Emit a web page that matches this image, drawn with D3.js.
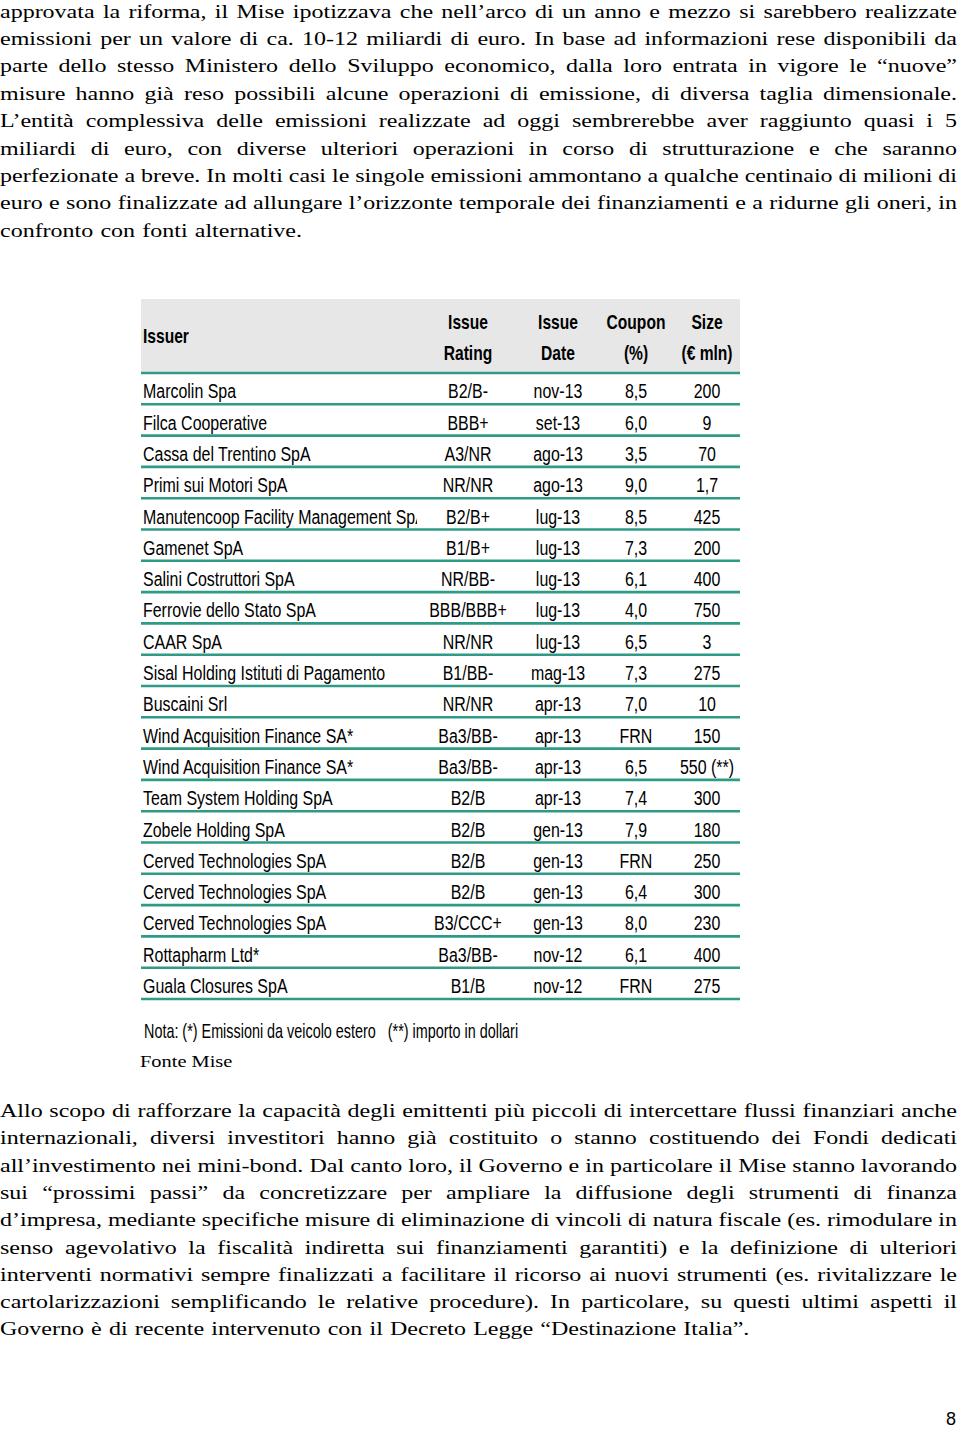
<!DOCTYPE html>
<html>
<head>
<meta charset="utf-8">
<script src="https://cdn.jsdelivr.net/npm/d3@7"></script>
<style>
  html, body { margin: 0; padding: 0; background: #fff; }
  svg { display: block; }
</style>
</head>
<body>
<div id="canvas"></div>
<script>
// DATA
const para1 = [
    "approvata la riforma, il Mise ipotizzava che nell’arco di un anno e mezzo si sarebbero realizzate",
    "emissioni per un valore di ca. 10-12 miliardi di euro. In base ad informazioni rese disponibili da",
    "parte dello stesso Ministero dello Sviluppo economico, dalla loro entrata in vigore le “nuove”",
    "misure hanno già reso possibili alcune operazioni di emissione, di diversa taglia dimensionale.",
    "L’entità complessiva delle emissioni realizzate ad oggi sembrerebbe aver raggiunto quasi i 5",
    "miliardi di euro, con diverse ulteriori operazioni in corso di strutturazione e che saranno",
    "perfezionate a breve. In molti casi le singole emissioni ammontano a qualche centinaio di milioni di",
    "euro e sono finalizzate ad allungare l’orizzonte temporale dei finanziamenti e a ridurne gli oneri, in",
    "confronto con fonti alternative."
];

const para2 = [
    "Allo scopo di rafforzare la capacità degli emittenti più piccoli di intercettare flussi finanziari anche",
    "internazionali, diversi investitori hanno già costituito o stanno costituendo dei Fondi dedicati",
    "all’investimento nei mini-bond. Dal canto loro, il Governo e in particolare il Mise stanno lavorando",
    "sui “prossimi passi” da concretizzare per ampliare la diffusione degli strumenti di finanza",
    "d’impresa, mediante specifiche misure di eliminazione di vincoli di natura fiscale (es. rimodulare in",
    "senso agevolativo la fiscalità indiretta sui finanziamenti garantiti) e la definizione di ulteriori",
    "interventi normativi sempre finalizzati a facilitare il ricorso ai nuovi strumenti (es. rivitalizzare le",
    "cartolarizzazioni semplificando le relative procedure). In particolare, su questi ultimi aspetti il",
    "Governo è di recente intervenuto con il Decreto Legge “Destinazione Italia”."
];

const columns = ["issuer", "rating", "date", "coupon", "size"];
const headers = [["Issuer"], ["Issue", "Rating"], ["Issue", "Date"], ["Coupon", "(%)"], ["Size", "(€ mln)"]];

const issuers = [
    "Marcolin Spa", "Filca Cooperative", "Cassa del Trentino SpA", "Primi sui Motori SpA",
    "Manutencoop Facility Management SpA", "Gamenet SpA", "Salini Costruttori SpA",
    "Ferrovie dello Stato SpA", "CAAR SpA", "Sisal Holding Istituti di Pagamento", "Buscaini Srl",
    "Wind Acquisition Finance SA*", "Wind Acquisition Finance SA*", "Team System Holding SpA",
    "Zobele Holding SpA", "Cerved Technologies SpA", "Cerved Technologies SpA",
    "Cerved Technologies SpA", "Rottapharm Ltd*", "Guala Closures SpA"
];
const ratings = [
    "B2/B-", "BBB+", "A3/NR", "NR/NR", "B2/B+", "B1/B+", "NR/BB-", "BBB/BBB+", "NR/NR", "B1/BB-",
    "NR/NR", "Ba3/BB-", "Ba3/BB-", "B2/B", "B2/B", "B2/B", "B2/B", "B3/CCC+", "Ba3/BB-", "B1/B"
];
const dates = [
    "nov-13", "set-13", "ago-13", "ago-13", "lug-13", "lug-13", "lug-13", "lug-13", "lug-13", "mag-13",
    "apr-13", "apr-13", "apr-13", "apr-13", "gen-13", "gen-13", "gen-13", "gen-13", "nov-12", "nov-12"
];
const coupons = [
    "8,5", "6,0", "3,5", "9,0", "8,5", "7,3", "6,1", "4,0", "6,5", "7,3",
    "7,0", "FRN", "6,5", "7,4", "7,9", "FRN", "6,4", "8,0", "6,1", "FRN"
];
const sizes = [
    "200", "9", "70", "1,7", "425", "200", "400", "750", "3", "275",
    "10", "150", "550 (**)", "300", "180", "250", "300", "230", "400", "275"
];

const nota = "Nota: (*) Emissioni da veicolo estero   (**) importo in dollari";
const fonte = "Fonte Mise";
const pageNumber = "8";

// DIMENSIONS
const width = 960;
const height = 1429;
const textWidth = 957;
const serif = "'Liberation Serif', 'Times New Roman', serif";
const sans = "'Liberation Sans', Arial, sans-serif";
const teal = "#2f9a86";

const canvas = d3.select("#canvas")
    .append("svg")
    .attr("width", width)
    .attr("height", height)
    .style("background", "#fff");

// narrow a text horizontally around its anchor (x, y) with a transform
function narrow(sel, x, y, k) {
    sel.attr("x", 0).attr("y", 0)
        .attr("transform", (d, i) => `translate(${x(d, i)}, ${y(d, i)}) scale(${k}, 1)`);
}

// PARAGRAPHS (justified, word by word)
function drawParagraph(lines, y0, lineStep) {
    const fs = 19.5, k = 1.23;
    const g = canvas.append("g").attr("class", "paragraph");
    const yScale = d3.scaleLinear().domain([0, 1]).range([y0, y0 + lineStep]);

    lines.forEach((line, i) => {
        const words = line.split(" ");
        const texts = g.append("g").selectAll("text")
            .data(words)
            .enter()
            .append("text")
            .attr("y", yScale(i))
            .style("font-family", serif)
            .style("font-size", fs + "px")
            .attr("fill", "#000")
            .text(d => d);
        const widths = [];
        texts.each(function () { widths.push(this.getComputedTextLength() * k); });
        const total = d3.sum(widths);
        const last = i === lines.length - 1;
        const gap = last ? fs * 0.3 * k : (textWidth - total) / (words.length - 1);
        let x = 0;
        texts.each(function (d, j) {
            d3.select(this)
                .attr("x", x)
                .attr("textLength", widths[j])
                .attr("lengthAdjust", "spacingAndGlyphs");
            x += widths[j] + gap;
        });
    });
}

drawParagraph(para1, 17.5, 27.4);
drawParagraph(para2, 1117, 27.3);

// TABLE
const rows = issuers.map((d, i) => ({
    issuer: d, rating: ratings[i], date: dates[i], coupon: coupons[i], size: sizes[i]
}));

const table = { left: 141, right: 740, headTop: 299, headBottom: 373, bottom: 999, issuerEnd: 417 };

const xCol = d3.scaleOrdinal()
    .domain(columns)
    .range([143, 468, 558, 636, 707]);

const yRow = d3.scaleBand()
    .domain(d3.range(rows.length))
    .range([table.headBottom, table.bottom]);

const tbl = canvas.append("g").attr("class", "table");

tbl.append("rect")
    .attr("x", table.left)
    .attr("y", table.headTop)
    .attr("width", table.right - table.left)
    .attr("height", table.headBottom - table.headTop)
    .attr("fill", "#e7e7e7");

// header labels, one text per header line
const headLines = [];
headers.forEach((lab, i) => {
    if (lab.length === 1) headLines.push({ col: columns[i], text: lab[0], y: 343 });
    else lab.forEach((t, j) => headLines.push({ col: columns[i], text: t, y: j === 0 ? 329 : 360 }));
});

tbl.selectAll(".head")
    .data(headLines)
    .enter()
    .append("text")
    .attr("class", "head")
    .attr("text-anchor", d => d.col === "issuer" ? "start" : "middle")
    .style("font-family", sans)
    .style("font-size", "20px")
    .style("font-weight", "bold")
    .attr("fill", "#000")
    .text(d => d.text)
    .call(narrow, d => xCol(d.col), d => d.y, 0.78);

// row lines
tbl.selectAll(".rowline")
    .data(d3.range(rows.length + 1))
    .enter()
    .append("line")
    .attr("class", "rowline")
    .attr("x1", table.left)
    .attr("x2", table.right)
    .attr("y1", d => d === 0 ? table.headBottom : yRow(d - 1) + yRow.bandwidth())
    .attr("y2", d => d === 0 ? table.headBottom : yRow(d - 1) + yRow.bandwidth())
    .attr("stroke", teal)
    .attr("stroke-width", 2.6);

// clip for the issuer column (row coordinates, baseline at 0)
canvas.append("clipPath")
    .attr("id", "issuerClip")
    .append("rect")
    .attr("x", table.left)
    .attr("y", -26)
    .attr("width", table.issuerEnd - table.left)
    .attr("height", 32);

const cells = tbl.selectAll(".row")
    .data(rows)
    .enter()
    .append("g")
    .attr("class", "row")
    .attr("transform", (d, i) => `translate(0, ${yRow(i) + yRow.bandwidth() - 6})`);

cells.each(function (row) {
    const g = d3.select(this);
    columns.forEach(c => {
        const holder = c === "issuer" ? g.append("g").attr("clip-path", "url(#issuerClip)") : g;
        holder.append("text")
            .datum({ col: c, value: row[c] })
            .attr("text-anchor", c === "issuer" ? "start" : "middle")
            .style("font-family", sans)
            .style("font-size", "21px")
            .attr("fill", "#000")
            .text(d => d.value)
            .call(narrow, d => xCol(d.col), () => 0, 0.76);
    });
});

// NOTES
canvas.append("text")
    .attr("xml:space", "preserve")
    .style("white-space", "pre")
    .style("font-family", sans)
    .style("font-size", "20px")
    .attr("fill", "#000")
    .text(nota)
    .call(narrow, () => 144, () => 1038, 0.72);

canvas.append("text")
    .style("font-family", serif)
    .style("font-size", "17px")
    .attr("fill", "#000")
    .text(fonte)
    .call(narrow, () => 140, () => 1067, 1.2);

canvas.append("text")
    .attr("x", 956)
    .attr("y", 1425)
    .attr("text-anchor", "end")
    .style("font-family", sans)
    .style("font-size", "18px")
    .attr("fill", "#000")
    .text(pageNumber);
</script>
</body>
</html>
